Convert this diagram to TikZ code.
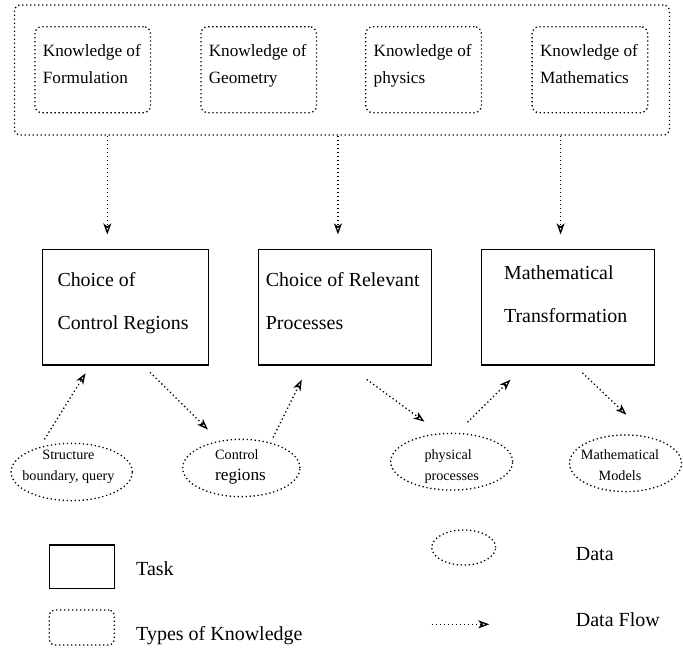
\documentclass[tikz,border=0pt]{standalone}
\usepackage{fontspec}
\setmainfont{Liberation Serif}
\usetikzlibrary{arrows.meta,shapes.geometric}

\begin{document}
\begin{tikzpicture}[x=1pt, y=-1pt,
  dots/.style={line width=1.3pt, dash pattern=on 1.3pt off 2.7pt},
  know/.style={dots, draw, rounded corners=7, minimum width=115.6, minimum height=86, inner sep=0},
  task/.style={draw, line width=1.2pt, minimum height=115.7, inner sep=0},
  data/.style={dots, draw, ellipse, inner sep=0},
  flow/.style={dots, -{Stealth[open, length=11pt, width=8pt, inset=3pt]}},
  ktext/.style={anchor=base west, align=left, inner sep=0, font=\fontsize{17.2}{27.3}\selectfont},
  ttext/.style={anchor=base west, align=left, inner sep=0, font=\fontsize{19.9}{43.3}\selectfont},
  dtext/.style={anchor=base, align=center, inner sep=0, font=\fontsize{14.2}{20.7}\selectfont},
  ltext/.style={anchor=base west, inner sep=0, font=\fontsize{20}{24}\selectfont}]
\useasboundingbox (0,0) rectangle (683,650);

% knowledge
\node[know, rounded corners=6, minimum width=655, minimum height=130] (outer) at (341.9,70) {};
\foreach \n/\x/\w in {1/92.75/Formulation, 2/258.7/Geometry, 3/423.6/physics, 4/589.9/Mathematics}{
  \node[know] (k\n) at (\x,69.7) {};
  \node[ktext] (kt\n) at (\x-50.1,84) {Knowledge of\\\w};
}

% tasks
\node[task, minimum width=166] (t1) at (125.3,307.15) {};
\node[task, minimum width=172.9] (t2) at (344.75,307.15) {};
\node[task, minimum width=172.9] (t3) at (567.75,307.15) {};
\node[ttext] (tt1) at (57.3,329.3) {Choice of\\Control Regions};
\node[ttext] (tt2) at (265.7,329.3) {Choice of Relevant\\Processes};
\node[ttext] (tt3) at (503.9,322.5) {Mathematical\\Transformation};

% data
\node[data, minimum width=121.3, minimum height=57.3] (e1) at (71.7,472) {};
\node[data, minimum width=117.3, minimum height=57.3] (e2) at (241.3,468) {};
\node[data, minimum width=122, minimum height=56.7] (e3) at (451.7,461.7) {};
\node[data, minimum width=112, minimum height=56.7] (e4) at (625.5,463.3) {};
\node[dtext] (et1) at (68.4,480) {Structure\\boundary, query};
\node[dtext, anchor=base west, align=left] (et2) at (215,480) {Control\\{\fontsize{17.2}{20.7}\selectfont regions}};
\node[dtext, anchor=base west, align=left] (et3) at (424.3,480) {physical\\processes};
\node[dtext] (et4) at (620,480) {Mathematical\\Models};

% flows
\foreach \t/\dx in {t1/-18, t2/-6.8, t3/-7.2}
  \draw[flow] ([xshift=\dx]\t.north |- outer.south) -- ([xshift=\dx, yshift=14.3]\t.north);
\draw[flow, shorten <=9, shorten >=9] (e1.142) -- ([xshift=-35]t1.south);
\draw[flow, shorten <=9.5, shorten >=16] ([xshift=18]t1.south) -- (e2.129);
\draw[flow, shorten <=5.6, shorten >=15.6] (e2.41) -- ([xshift=-36]t2.south);
\draw[flow, shorten <=23.5, shorten >=19.5] ([xshift=3]t2.south) -- (e3.112);
\draw[flow, shorten <=15, shorten >=20] (e3.80) -- ([xshift=-43]t3.south);
\draw[flow, shorten <=10.5, shorten >=32.5] ([xshift=7]t3.south) -- (e4.47);

% legend
\node[task, minimum width=65, minimum height=43.3] (lt) at (81.8,566.7) {};
\node[know, rounded corners=5, minimum width=65, minimum height=35] (lk) at (81.8,627.5) {};
\node[data, minimum width=64, minimum height=35] (ld) at (463.7,547.5) {};
\coordinate (lf1) at (431.7,624.3);
\coordinate (lf2) at (489.3,624.3);
\draw[flow] (lf1) -- (lf2);
\node[ltext] (ltt) at (136,575) {Task};
\node[ltext] (lkt) at (136,640) {Types of Knowledge};
\node[ltext] (ldt) at (575.7,560) {Data};
\node[ltext] (lft) at (575.7,626.7) {Data Flow};
\end{tikzpicture}
\end{document}
